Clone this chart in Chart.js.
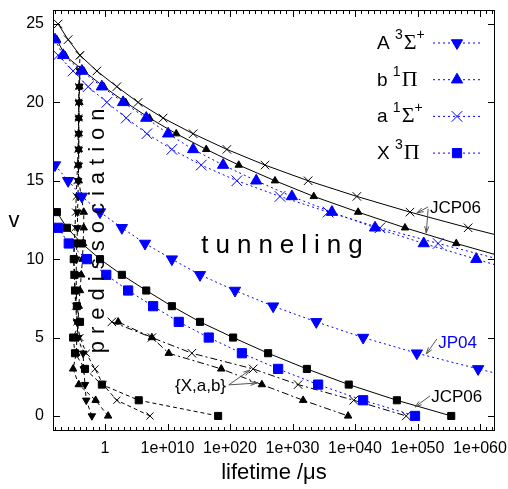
<!DOCTYPE html>
<html>
<head>
<meta charset="utf-8">
<script src="https://cdn.jsdelivr.net/npm/chart.js@4.4.0/dist/chart.umd.min.js"></script>
<style>
  html, body { margin: 0; padding: 0; background: #fff; }
</style>
</head>
<body>
<canvas id="chart" width="508" height="489"></canvas>
<script>
// x values are log10(lifetime / µs); y values are v

// JP04 (blue, dotted) -- tunneling
const V_A_JP04 = [16, 15, 14, 13, 12, 11, 10, 9, 8, 7, 6, 5, 4, 3, 2];
const A_JP04 = [-8.0, -5.9, -3.7, -0.8, 2.7, 6.4, 10.7, 15.2, 20.8, 26.9, 33.8, 41.3, 49.9, 59.7, 70.0];
const V_B_JP04 = [24, 23, 22, 21, 20, 19, 18, 17, 16, 15, 14, 13, 12, 11, 10, 9];
const B_JP04 = [-8.0, -6.7, -3.7, -0.5, 2.9, 6.6, 10.1, 14.1, 18.9, 24.2, 29.9, 36.3, 43.2, 51.0, 59.4, 67.8];
const V_a_JP04 = [23, 22, 21, 20, 19, 18, 17, 16, 15, 14, 13, 12, 11, 10];
const a_JP04 = [-7.5, -5.1, -2.7, 0.3, 3.4, 6.7, 10.7, 15.4, 21.1, 28.0, 35.7, 44.0, 53.3, 63.0];
const V_X_JP04 = [12, 11, 10, 9, 8, 7, 6, 5, 4, 3, 2, 1, 0];
const X_JP04 = [-7.5, -5.8, -2.9, 0.2, 3.7, 7.7, 11.8, 16.6, 21.9, 27.7, 34.1, 41.3, 49.6];

// JCP06 (black, solid) -- tunneling
const V_B_JCP = [24, 23, 22, 21, 20, 19, 18, 17, 16, 15, 14, 13, 12, 11, 10];
const B_JCP = [-7.7, -6.4, -3.4, -0.2, 3.3, 7.1, 11.4, 16.2, 21.4, 27.2, 33.4, 40.5, 48.0, 56.2, 65.0];
const V_a_JCP = [25, 24, 23, 22, 21, 20, 19, 18, 17, 16, 15, 14, 13, 12, 11];
const a_JCP = [-7.5, -5.9, -4.0, -1.3, 1.9, 5.3, 9.3, 14.1, 19.5, 25.6, 32.5, 40.3, 48.8, 58.1, 68.0];
const V_X_JCP = [13, 12, 11, 10, 9, 8, 7, 6, 5, 4, 3, 2, 1, 0];
const X_JCP = [-7.7, -6.1, -3.7, -0.8, 2.7, 6.6, 10.7, 15.2, 20.5, 26.1, 32.3, 39.0, 46.7, 55.4];

// {X,a,b} low-v tunneling (black, dash-dot)
const V_LOW = [6, 5, 4, 3, 2, 1, 0];
const a_LOW = [1.1, 7.5, 13.9, 23.7, 30.9, 39.8, 48.2];
const b_LOW = [2.1, 7.5, 10.2, 18.6, 25.1, 31.7, 38.9];

// predissociation (black, dashed)
const V_A_PRED = [0, 1, 2, 3, 4, 5, 6, 7, 8, 9, 10, 11, 12, 13, 14, 15, 16, 17, 18, 19, 20, 21, 22];
const A_PRED = [-2.1, -3.0, -3.2, -3.4, -3.5, -4.3, -4.5, -4.5, -4.6, -4.6, -4.6, -4.5, -4.4, -4.4, -4.3, -4.3, -4.2, -4.2, -4.2, -4.2, -4.2, -4.1, -4.0];
const V_B_PRED = [0, 1, 2, 3, 4, 5, 6, 7, 8, 9, 10, 11, 12, 13, 14, 15, 16, 17, 18, 19, 20, 21, 22];
const B_PRED = [0.5, -1.5, -4.2, -5.1, -4.6, -4.5, -4.3, -4.2, -4.0, -3.8, -3.6, -3.5, -3.4, -3.4, -3.8, -4.2, -4.3, -4.2, -4.2, -4.2, -4.1, -4.1, -4.0];
const V_a_PRED = [0, 1, 2, 3, 4, 5, 6, 7, 8, 9, 10, 11, 12, 13, 14, 15, 16, 17, 18, 19, 20, 21, 22, 23];
const a_PRED = [7.2, 1.9, -0.3, -1.6, -3.0, -4.0, -4.5, -4.7, -4.8, -4.9, -5.0, -4.9, -4.8, -4.7, -4.6, -4.5, -4.4, -4.3, -4.3, -4.2, -4.2, -4.2, -4.1, -4.0];
const V_X_PRED = [0, 1, 2, 3, 4, 5, 6, 7, 8, 9, 10, 11];
const X_PRED = [18.1, 5.4, -0.5, -3.2, -4.8, -5.1, -4.0, -4.5, -4.8, -4.9, -5.0, -4.9];

const X_TICKS = [0, 10, 20, 30, 40, 50, 60];
const X_LABELS = ["1", "1e+010", "1e+020", "1e+030", "1e+040", "1e+050", "1e+060"];
const Y_TICKS = [0, 5, 10, 15, 20, 25];

// legend: [text, kind] with kind 0 = normal, 1 = superscript, 2 = greek
const LEGEND = [
  [["A ", 0], ["3", 1], ["Σ", 2], ["+", 1]],
  [["b ", 0], ["1", 1], ["Π", 2]],
  [["a ", 0], ["1", 1], ["Σ", 2], ["+", 1]],
  [["X ", 0], ["3", 1], ["Π", 2]],
];

const BLUE = "#0000ff";
const BLACK = "#000000";
const SANS = "'Liberation Sans', Arial, sans-serif";
const SERIF = "'Liberation Serif', 'DejaVu Serif', serif";

const MARK = {
  down: { pointStyle: "triangle", pointRotation: 180 },
  up: { pointStyle: "triangle", pointRotation: 0 },
  cross: { pointStyle: "crossRot", pointRotation: 0 },
  square: { pointStyle: "rect", pointRotation: 0 },
};

function pts(vs, xs) {
  return vs.map((v, i) => ({ x: xs[i], y: v }));
}

function blueSet(vs, xs, mark, r) {
  return Object.assign({
    data: pts(vs, xs),
    borderColor: BLUE,
    backgroundColor: BLUE,
    pointBackgroundColor: BLUE,
    pointBorderColor: BLUE,
    borderWidth: 1,
    borderDash: [2, 3],
    pointBorderWidth: 1,
    pointRadius: r,
  }, MARK[mark]);
}

function blackSet(vs, xs, mark, r, dash) {
  return Object.assign({
    data: pts(vs, xs),
    borderColor: BLACK,
    backgroundColor: BLACK,
    pointBackgroundColor: BLACK,
    pointBorderColor: BLACK,
    borderWidth: 1,
    borderDash: dash,
    pointBorderWidth: 1,
    pointRadius: r,
  }, MARK[mark]);
}

const datasets = [
  blueSet(V_A_JP04, A_JP04, "down", 6.5),
  blueSet(V_B_JP04, B_JP04, "up", 6.5),
  blueSet(V_a_JP04, a_JP04, "cross", 7.5),
  blueSet(V_X_JP04, X_JP04, "square", 6.5),
  blackSet(V_B_JCP, B_JCP, "up", 4.3, []),
  blackSet(V_a_JCP, a_JCP, "cross", 6, []),
  blackSet(V_X_JCP, X_JCP, "square", 5, []),
  blackSet(V_LOW, a_LOW, "cross", 6, [7, 3, 2, 3]),
  blackSet(V_LOW, b_LOW, "up", 4.3, [7, 3, 2, 3]),
  blackSet(V_A_PRED, A_PRED, "down", 4.3, [4, 3]),
  blackSet(V_B_PRED, B_PRED, "up", 4.3, [4, 3]),
  blackSet(V_a_PRED, a_PRED, "cross", 5, [4, 3]),
  blackSet(V_X_PRED, X_PRED, "square", 5, [4, 3]),
];

function spaced(ctx, text, x, y, gap) {
  for (const ch of text) {
    ctx.fillText(ch, x, y);
    x += ctx.measureText(ch).width + gap;
  }
}

function arrow(ctx, x1, y1, x2, y2) {
  const ang = Math.atan2(y2 - y1, x2 - x1);
  const h = 7;
  ctx.beginPath();
  ctx.moveTo(x1, y1);
  ctx.lineTo(x2, y2);
  ctx.moveTo(x2 - h * Math.cos(ang - 0.3), y2 - h * Math.sin(ang - 0.3));
  ctx.lineTo(x2, y2);
  ctx.lineTo(x2 - h * Math.cos(ang + 0.3), y2 - h * Math.sin(ang + 0.3));
  ctx.stroke();
}

const decor = {
  id: "decor",
  afterDraw(chart) {
    const { ctx, chartArea: a } = chart;
    const sx = chart.scales.x;
    const sy = chart.scales.y;
    const X = (v) => sx.getPixelForValue(v);
    const Y = (v) => sy.getPixelForValue(v);
    ctx.save();
    ctx.setLineDash([]);
    ctx.strokeStyle = BLACK;
    ctx.lineWidth = 1;

    // frame and inward ticks on all sides
    ctx.strokeRect(a.left + 0.5, a.top + 0.5, a.right - a.left - 1, a.bottom - a.top - 1);
    ctx.beginPath();
    for (let d = Math.ceil(sx.min); d <= Math.floor(sx.max); d++) {
      const px = Math.round(X(d)) + 0.5;
      const len = d % 10 === 0 ? 7 : 4;
      ctx.moveTo(px, a.bottom);
      ctx.lineTo(px, a.bottom - len);
      ctx.moveTo(px, a.top);
      ctx.lineTo(px, a.top + len);
    }
    for (const v of Y_TICKS) {
      const py = Math.round(Y(v)) + 0.5;
      ctx.moveTo(a.left, py);
      ctx.lineTo(a.left + 7, py);
      ctx.moveTo(a.right, py);
      ctx.lineTo(a.right - 7, py);
    }
    ctx.stroke();

    // y label
    ctx.fillStyle = BLACK;
    ctx.font = "22px " + SANS;
    ctx.textAlign = "center";
    ctx.textBaseline = "middle";
    ctx.fillText("v", 14, (a.top + a.bottom) / 2);

    // legend
    ctx.textAlign = "left";
    ctx.textBaseline = "alphabetic";
    LEGEND.forEach((parts, i) => {
      const base = a.top + 39 + i * 36.7;
      let tx = a.right - 118;
      for (const [t, kind] of parts) {
        if (kind === 1) {
          ctx.font = "14px " + SANS;
          ctx.fillText(t, tx, base - 10);
        } else if (kind === 2) {
          ctx.font = "22px " + SERIF;
          ctx.fillText(t, tx, base);
        } else {
          ctx.font = "19px " + SANS;
          ctx.fillText(t, tx, base);
        }
        tx += ctx.measureText(t).width + (kind === 1 ? 1 : 0);
      }
      const cy = base - 6;
      ctx.strokeStyle = BLUE;
      ctx.setLineDash([2, 3]);
      ctx.beginPath();
      ctx.moveTo(a.right - 62, cy);
      ctx.lineTo(a.right - 15, cy);
      ctx.stroke();
      ctx.setLineDash([]);
      const ds = datasets[i];
      ctx.fillStyle = BLUE;
      Chart.helpers.drawPoint(ctx, {
        pointStyle: ds.pointStyle,
        rotation: ds.pointRotation,
        radius: ds.pointRadius,
        borderWidth: 1,
      }, a.right - 38, cy);
      ctx.fillStyle = BLACK;
      ctx.strokeStyle = BLACK;
    });

    // region labels
    ctx.font = "26px " + SANS;
    ctx.textAlign = "left";
    ctx.textBaseline = "alphabetic";
    spaced(ctx, "tunneling", X(15.4), Y(10.4), 7);
    ctx.save();
    ctx.font = "22px " + SANS;
    ctx.translate(X(-0.15), Y(4.0));
    ctx.rotate(-Math.PI / 2);
    spaced(ctx, "predissociation", 0, 0, 7);
    ctx.restore();

    // annotations
    ctx.font = "17px " + SANS;
    ctx.textBaseline = "middle";
    ctx.fillText("JCP06", X(52.0), Y(13.27));
    ctx.fillText("JCP06", X(52.2), Y(1.21));
    ctx.fillText("{X,a,b}", X(11.2), Y(1.91));
    ctx.fillStyle = BLUE;
    ctx.fillText("JP04", X(53.3), Y(4.66));

    ctx.strokeStyle = "#555";
    arrow(ctx, X(51.7), Y(13.33), X(49.9), Y(12.95));
    arrow(ctx, X(51.7), Y(13.2), X(51.4), Y(11.67));
    arrow(ctx, X(53.1), Y(4.91), X(51.4), Y(3.95));
    arrow(ctx, X(52.0), Y(1.28), X(49.6), Y(0.57));
    arrow(ctx, X(19.8), Y(1.98), X(23.2), Y(2.93));
    arrow(ctx, X(19.8), Y(1.98), X(24.3), Y(2.10));
    ctx.restore();
  },
};

new Chart(document.getElementById("chart"), {
  type: "line",
  data: { datasets },
  options: {
    responsive: false,
    animation: false,
    events: [],
    devicePixelRatio: 1,
    layout: { padding: { top: 10, right: 13, left: 0, bottom: 0 } },
    plugins: { legend: { display: false }, tooltip: { enabled: false } },
    elements: { line: { tension: 0, fill: false } },
    scales: {
      x: {
        type: "linear",
        min: -8.32,
        max: 62.4,
        grid: { display: false, drawTicks: false },
        border: { display: false },
        afterBuildTicks: (s) => { s.ticks = X_TICKS.map((v) => ({ value: v })); },
        afterFit: (s) => { s.height = 58; s.paddingLeft = 0; s.paddingRight = 0; },
        ticks: {
          autoSkip: false,
          maxRotation: 0,
          padding: 8,
          color: BLACK,
          font: { family: SANS, size: 16 },
          callback: (v) => X_LABELS[X_TICKS.indexOf(v)],
        },
        title: {
          display: true,
          text: "lifetime /μs",
          color: BLACK,
          font: { family: SANS, size: 22 },
          padding: { top: 0, bottom: 3 },
        },
      },
      y: {
        type: "linear",
        min: -0.96,
        max: 25.89,
        grid: { display: false, drawTicks: false },
        border: { display: false },
        afterBuildTicks: (s) => { s.ticks = Y_TICKS.map((v) => ({ value: v })); },
        afterFit: (s) => { s.width = 53; s.paddingTop = 0; s.paddingBottom = 0; },
        ticks: {
          padding: 9,
          color: BLACK,
          font: { family: SANS, size: 16 },
        },
      },
    },
  },
  plugins: [decor],
});
</script>
</body>
</html>
